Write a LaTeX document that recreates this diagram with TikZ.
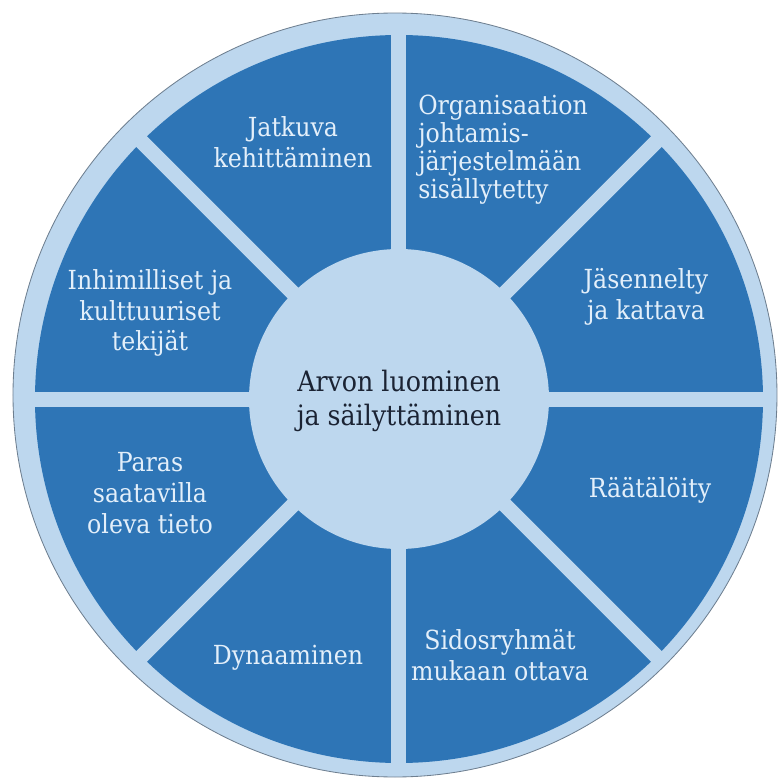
\documentclass[tikz,border=0pt]{standalone}
\usepackage{fontspec}
\newfontfamily\wheelfont{DejaVu Serif Condensed}
\definecolor{segblue}{HTML}{2E75B6}
\definecolor{paleblue}{HTML}{BDD7EE}
\definecolor{segtext}{HTML}{E3EFFA}
\definecolor{rimgray}{HTML}{6E7F90}
\definecolor{hubtext}{HTML}{1B2333}

\begin{document}
\begin{tikzpicture}
[seg/.style={text=segtext, align=center, inner sep=0pt, font=\wheelfont\fontsize{18.7}{22}\selectfont},
 gap/.style={draw=paleblue, line width=0.375cm}]
% frame
\clip (-9.975,-9.525) rectangle (9.5,9.975);
% outer ring
\filldraw[fill=paleblue, draw=rimgray, line width=0.6pt] (-0.1,0.1) circle (9.55);
% segments
\fill[segblue] (0,0) circle (9.1);
% dividers
\draw[gap] (0,-9.3) -- (0,9.3);
\draw[gap] (-9.3,0) -- (9.3,0);
\draw[gap] (-6.58,-6.58) -- (6.58,6.58);
\draw[gap] (-6.58,6.58) -- (6.58,-6.58);
% hub
\fill[paleblue] (0,0) circle (3.75);
\node[text=hubtext, align=center, inner sep=0pt, font=\wheelfont\fontsize{20}{24.2}\selectfont] (arvo) at (0,-0.05) {Arvon luominen\\ja säilyttäminen};
% segment labels
\node[seg] (jatkuva) at (-2.65,6.43) {Jatkuva\\kehittäminen};
\node[seg, align=left, anchor=north west, font=\wheelfont\fontsize{18.7}{19.9}\selectfont] (organisaatio) at (0.475,7.6) {Organisaation\\johtamis-\\järjestelmään\\sisällytetty};
\node[seg] (jasennelty) at (6.175,2.55) {Jäsennelty\\ja kattava};
\node[seg] (raataloity) at (6.275,-2.275) {Räätälöity};
\node[seg] (sidosryhmat) at (2.525,-6.4) {Sidosryhmät\\mukaan ottava};
\node[seg] (dynaaminen) at (-2.775,-6.475) {Dynaaminen};
\node[seg] (paras) at (-6.225,-2.35) {Paras\\saatavilla\\oleva tieto};
\node[seg] (inhimilliset) at (-6.225,2.15) {Inhimilliset ja\\kulttuuriset\\tekijät};
\end{tikzpicture}
\end{document}
